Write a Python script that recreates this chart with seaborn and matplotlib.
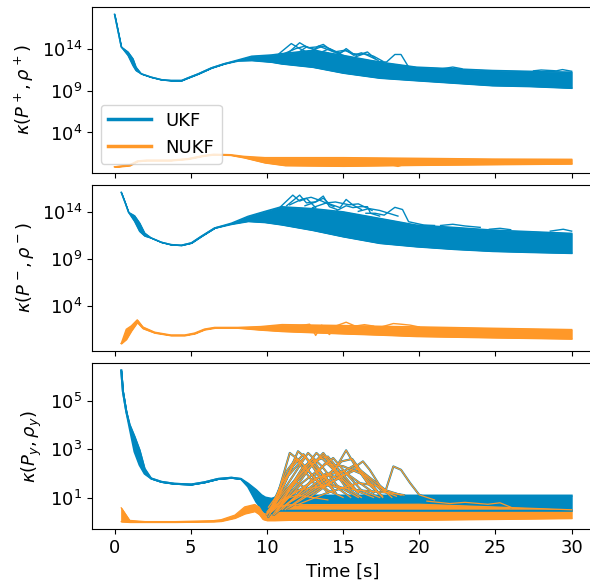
import numpy as np
import pandas as pd
import matplotlib
matplotlib.use("Agg")
import matplotlib.pyplot as plt
from matplotlib.lines import Line2D
from matplotlib.ticker import NullLocator
import seaborn as sns

UKF_COLOR = "#0088c0"
NUKF_COLOR = "#ff9828"

# values are log10 of the condition number
# upper / lower edge of the bundle of Monte Carlo runs

# --- kappa(P+, rho+) ---
top_ukf_t = [0.0, 0.44, 0.88, 1.2, 1.4, 1.75, 2.4, 3.07, 3.7, 4.4, 4.8, 5.5, 6.35, 7.2, 8.1, 9.0,
             10.3, 10.95, 13.0, 15.0, 17.4, 19.8, 22.3, 24.8, 27.3, 30.0]
top_ukf_hi = [18.08, 14.2, 13.6, 12.8, 11.8, 11.0, 10.6, 10.3, 10.2, 10.2, 10.5, 11.0, 11.7, 12.2, 12.65, 13.1,
              13.25, 13.4, 13.8, 13.2, 12.4, 11.8, 11.6, 11.4, 11.3, 11.2]
top_ukf_lo = [18.08, 14.2, 13.2, 12.0, 11.4, 11.0, 10.6, 10.3, 10.2, 10.2, 10.5, 11.0, 11.7, 12.2, 12.55, 12.6,
              12.4, 12.2, 11.8, 11.1, 10.5, 10.2, 9.9, 9.6, 9.5, 9.3]
top_ukf_spikes = [
    ([10.8, 11.6, 12.15, 12.6, 13.25], [13.4, 14.6, 14.0, 13.6, 13.3]),
    ([11.4, 12.15, 12.7, 13.25, 13.7, 14.3, 15.0], [13.5, 14.7, 14.1, 14.2, 14.5, 13.7, 13.2]),
    ([12.2, 12.6, 13.1, 13.7, 14.1, 14.8], [13.7, 14.2, 13.9, 14.3, 14.0, 13.4]),
    ([13.6, 14.1, 14.8, 15.2, 15.65, 16.1, 16.6, 17.1], [13.6, 14.0, 13.4, 14.0, 13.4, 13.3, 13.6, 12.8]),
    ([14.5, 15.2, 15.7, 16.2, 16.6, 17.3], [13.3, 13.8, 13.2, 13.5, 13.2, 12.6]),
    ([17.0, 17.85, 18.4, 18.8, 19.3, 20.0], [12.5, 12.4, 13.3, 13.3, 11.8, 11.7]),
    ([11.0, 11.9, 12.5, 13.4, 14.0], [13.3, 14.0, 14.3, 13.7, 13.5]),
    ([12.8, 13.4, 14.4, 15.1, 15.9], [13.5, 14.3, 13.6, 13.8, 13.2]),
    ([15.8, 16.4, 17.0, 17.6], [13.0, 13.4, 13.1, 12.5]),
    ([21.5, 22.2, 22.8], [11.6, 11.8, 11.6]),
    ([27.5, 28.0, 29.0, 29.4, 30.0], [11.35, 11.45, 11.35, 11.5, 11.3]),
]
top_nukf_t = [0.0, 0.44, 1.0, 1.5, 2.1, 3.7, 4.8, 5.9, 6.5, 7.6, 8.5, 9.86, 11.2, 15.0, 19.8, 24.8, 30.0]
top_nukf_hi = [-0.1, 0.0, 0.15, 0.6, 0.7, 0.7, 0.87, 1.27, 1.4, 1.35, 1.15, 1.0, 1.0, 1.0, 0.92, 0.83, 0.8]
top_nukf_lo = [-0.1, -0.05, 0.05, 0.55, 0.65, 0.65, 0.82, 1.22, 1.35, 1.3, 1.0, 0.4, 0.07, 0.0, 0.11, 0.19, 0.27]
top_nukf_spikes = [([17.8, 18.6, 19.2], [0.3, -0.05, 0.3])]

# --- kappa(P-, rho-) ---
mid_ukf_t = [0.44, 0.7, 0.92, 1.31, 1.64, 1.97, 2.4, 3.07, 3.7, 4.38, 5.04, 5.7, 6.57, 7.67, 8.76, 9.86,
             10.95, 13.0, 15.0, 17.4, 19.8, 22.3, 24.8, 27.3, 30.0]
mid_ukf_hi = [16.12, 15.0, 14.0, 13.64, 12.87, 11.8, 11.28, 10.82, 10.57, 10.5, 10.75, 11.46, 12.34, 12.85, 13.58, 14.1,
              14.6, 14.4, 14.06, 13.36, 12.65, 12.4, 12.12, 11.95, 11.77]
mid_ukf_lo = [16.12, 15.0, 14.0, 13.05, 11.99, 11.5, 11.28, 10.82, 10.57, 10.5, 10.75, 11.46, 12.34, 12.75, 13.05, 12.94,
              12.69, 12.1, 11.42, 10.72, 10.36, 10.08, 9.87, 9.76, 9.66]
mid_ukf_spikes = [
    ([10.9, 11.7, 12.15, 12.6, 13.2], [14.6, 15.83, 15.2, 15.48, 14.5]),
    ([11.3, 12.15, 12.6, 13.2, 13.7, 14.1, 14.6], [14.7, 15.83, 15.0, 15.12, 15.73, 14.6, 14.3]),
    ([12.5, 13.2, 13.7, 14.1, 14.8, 15.2, 15.65, 16.2], [14.7, 15.1, 15.5, 14.9, 14.5, 15.37, 14.77, 14.3]),
    ([14.6, 15.2, 15.65, 16.1, 16.6, 16.8, 17.4], [14.2, 14.7, 14.5, 14.6, 14.6, 13.9, 13.6]),
    ([16.5, 17.1, 17.7, 18.4, 18.9, 19.3, 20.3, 21.0], [13.9, 13.9, 13.7, 14.53, 14.3, 13.0, 12.65, 12.6]),
    ([11.5, 12.3, 12.9, 13.6, 14.4], [14.8, 15.4, 15.6, 15.2, 14.6]),
    ([13.0, 13.9, 14.5, 15.4, 16.0, 16.9], [14.5, 15.0, 15.1, 14.8, 14.9, 14.2]),
    ([16.0, 16.7, 17.4, 18.0, 18.6], [14.1, 14.4, 14.2, 13.9, 13.6]),
    ([21.4, 22.2, 23.0, 24.0], [12.6, 12.73, 12.55, 12.4]),
    ([24.6, 25.3, 26.0], [12.2, 12.3, 12.15]),
    ([28.6, 29.45, 30.0], [12.0, 12.2, 12.0]),
]
mid_nukf_t = [0.44, 0.77, 1.1, 1.49, 1.86, 2.63, 3.7, 4.6, 5.26, 5.9, 6.57, 8.1, 9.6, 11.0, 15.0, 17.4, 19.8, 24.8, 30.0]
mid_nukf_hi = [0.05, 1.56, 1.92, 2.56, 1.8, 1.25, 0.95, 0.95, 1.16, 1.58, 1.76, 1.76, 1.85, 2.06, 1.96, 1.88, 1.82, 1.67, 1.53]
mid_nukf_lo = [0.05, 0.5, 1.4, 2.3, 1.65, 1.18, 0.9, 0.9, 1.1, 1.52, 1.7, 1.7, 1.5, 1.35, 1.1, 0.97, 0.82, 0.68, 0.55]
mid_nukf_spikes = [
    ([12.0, 12.8, 13.2, 13.6, 14.1, 14.6], [1.9, 2.1, 0.9, 2.0, 1.0, 1.9]),
    ([14.5, 15.2, 15.8, 16.4, 17.0], [1.9, 2.31, 1.9, 2.05, 1.9]),
    ([17.6, 18.3, 18.8, 19.4, 20.0], [1.85, 2.17, 2.1, 2.0, 1.8]),
]

# --- kappa(P_y, rho_y) ---
bot_ukf_t = [0.44, 0.55, 0.77, 0.99, 1.31, 1.64, 1.97, 2.4, 3.07, 3.94, 5.04, 5.9, 6.79, 7.67, 8.3, 8.76,
             9.3, 9.64, 9.9, 10.3, 10.8, 11.5, 20.0, 30.0]
bot_ukf_hi = [6.27, 5.4, 4.57, 4.02, 3.53, 2.97, 2.2, 1.79, 1.65, 1.57, 1.54, 1.63, 1.77, 1.82, 1.77, 1.58,
              1.31, 1.1, 1.0, 0.95, 1.05, 1.08, 1.08, 1.08]
bot_ukf_lo = [6.27, 5.4, 4.57, 3.88, 2.9, 2.35, 1.99, 1.79, 1.65, 1.57, 1.54, 1.63, 1.77, 1.82, 1.77, 1.45,
              0.82, 0.54, 0.35, 0.35, 0.45, 0.45, 0.45, 0.45]
bot_nukf_t = [0.44, 0.99, 2.0, 4.0, 6.5, 7.0, 7.9, 8.54, 9.2, 9.5, 9.74, 10.0, 10.5, 11.5, 20.0, 30.0]
bot_nukf_hi = [0.57, 0.05, 0.0, 0.0, 0.04, 0.08, 0.27, 0.61, 0.71, 0.6, 0.35, 0.3, 0.6, 0.7, 0.72, 0.49]
bot_nukf_lo = [0.0, -0.02, -0.02, -0.02, 0.0, 0.02, 0.15, 0.33, 0.43, 0.3, 0.1, 0.05, 0.05, 0.07, 0.07, 0.14]
# excursions between 10 s and 20 s, shared by both filters
bot_spikes = [
    ([10.0, 10.6, 11.5, 12.2, 13.0, 14.0, 15.0], [0.4, 0.9, 2.85, 2.5, 1.9, 1.3, 1.0]),
    ([10.0, 10.8, 12.04, 13.0, 14.2, 15.5], [0.3, 1.1, 2.92, 2.4, 1.6, 1.0]),
    ([10.2, 11.2, 12.7, 13.6, 14.6, 16.0], [0.5, 1.4, 2.85, 2.3, 1.5, 1.0]),
    ([10.3, 11.6, 13.25, 14.3, 15.2, 16.2], [0.4, 1.5, 2.85, 2.2, 1.4, 1.0]),
    ([10.5, 12.0, 13.7, 14.7, 15.8, 17.0], [0.5, 1.7, 2.85, 2.0, 1.3, 1.0]),
    ([10.6, 12.3, 14.35, 15.2, 16.2, 17.4], [0.4, 1.6, 2.64, 2.0, 1.3, 1.0]),
    ([11.0, 12.8, 14.5, 15.2, 15.9, 16.8, 17.6], [0.6, 1.4, 2.2, 2.96, 2.2, 1.5, 1.0]),
    ([11.2, 13.0, 14.8, 15.8, 16.6, 17.6], [0.5, 1.3, 2.0, 2.36, 1.6, 1.05]),
    ([11.5, 13.5, 15.2, 16.3, 16.75, 17.5, 18.2], [0.6, 1.4, 2.0, 2.5, 2.15, 1.4, 1.0]),
    ([12.0, 14.0, 16.0, 17.2, 17.8, 18.3, 18.8, 19.4, 20.0, 21.0],
     [0.7, 1.2, 1.6, 1.5, 1.3, 2.29, 2.15, 1.6, 1.11, 0.9]),
    ([10.2, 11.0, 12.0, 12.6, 13.4, 14.0], [0.3, 1.6, 2.6, 2.2, 1.6, 1.2]),
    ([10.4, 11.4, 12.5, 13.5, 14.5], [0.5, 1.9, 2.7, 1.9, 1.2]),
    ([10.8, 12.0, 13.0, 14.0, 15.2, 16.0], [0.6, 1.8, 2.5, 2.7, 1.8, 1.2]),
    ([11.0, 12.5, 13.8, 15.0, 16.5, 17.5, 18.5], [0.5, 1.4, 2.4, 2.3, 1.9, 1.3, 1.05]),
    ([10.3, 12.0, 14.0, 16.0, 18.0, 19.0], [0.4, 1.3, 1.5, 1.3, 1.2, 1.1]),
    ([10.5, 11.8, 13.2, 15.0, 17.0], [0.3, 1.0, 1.8, 2.1, 1.2]),
    ([10.1, 10.9, 11.7, 12.4, 13.1, 13.8], [0.6, 1.3, 2.3, 2.8, 2.2, 1.5]),
    ([10.2, 10.7, 11.3, 11.9, 12.6, 13.3], [0.5, 1.2, 2.1, 2.6, 2.0, 1.4]),
    ([10.4, 11.0, 11.6, 12.3, 13.0, 13.6, 14.4], [0.3, 0.8, 1.5, 2.2, 2.6, 2.0, 1.3]),
    ([10.6, 11.3, 12.1, 12.9, 13.7, 14.5, 15.4], [0.4, 1.0, 1.6, 2.3, 2.75, 2.1, 1.4]),
    ([10.1, 10.5, 11.1, 11.8, 12.5], [0.2, 0.7, 1.2, 1.7, 1.4]),
    ([10.3, 11.0, 11.9, 12.8, 13.9, 15.0, 16.0], [0.5, 0.9, 1.2, 1.6, 2.0, 1.7, 1.2]),
    ([11.5, 12.6, 13.7, 14.9, 15.6, 16.4, 17.2], [0.8, 1.2, 1.7, 2.5, 2.6, 1.9, 1.3]),
    ([10.0, 10.4, 11.0, 12.0, 13.0, 14.0], [0.35, 0.6, 0.9, 1.1, 1.0, 0.9]),
    ([12.8, 13.9, 15.0, 16.0, 16.8, 17.8, 18.8], [1.0, 1.5, 1.9, 2.2, 1.8, 1.3, 1.1]),
    ([20.5, 22.0, 23.0, 24.5, 25.3, 26.0], [0.85, 0.75, 0.8, 0.72, 0.78, 0.6]),
]

ylabels = [r"$\kappa(P^+, \rho^+)$", r"$\kappa(P^-, \rho^-)$", r"$\kappa(P_y, \rho_y)$"]
yticks = [[1e4, 1e9, 1e14], [1e4, 1e9, 1e14], [1e1, 1e3, 1e5]]
ylims = [(10 ** -0.84, 10 ** 18.96), (10 ** -0.77, 10 ** 16.89), (10 ** -0.32, 10 ** 6.57)]


def to_long(curves):
    rows = []
    for k, (t, logk) in enumerate(curves):
        for ti, li in zip(t, logk):
            rows.append((k, ti, 10.0 ** li))
    return pd.DataFrame(rows, columns=["run", "time", "kappa"])


def draw_bundle(ax, t, hi, lo, spikes, color, lw=1.0):
    ax.fill_between(t, 10.0 ** np.array(lo), 10.0 ** np.array(hi), color=color, lw=0.8,
                    edgecolor=color)
    df = to_long([(t, hi), (t, lo)] + spikes)
    sns.lineplot(data=df, x="time", y="kappa", units="run", estimator=None,
                 color=color, lw=lw, ax=ax, legend=False)


plt.rcParams["font.size"] = 13

fig, axes = plt.subplots(3, 1, figsize=(5.9, 5.85), dpi=100, sharex=True)
fig.subplots_adjust(left=0.1554, right=1.0076, top=0.988, bottom=0.0952, hspace=0.073)

for ax in axes:
    ax.set_yscale("log")

draw_bundle(axes[0], top_ukf_t, top_ukf_hi, top_ukf_lo, top_ukf_spikes, UKF_COLOR)
draw_bundle(axes[0], top_nukf_t, top_nukf_hi, top_nukf_lo, top_nukf_spikes, NUKF_COLOR)

draw_bundle(axes[1], mid_ukf_t, mid_ukf_hi, mid_ukf_lo, mid_ukf_spikes, UKF_COLOR)
draw_bundle(axes[1], mid_nukf_t, mid_nukf_hi, mid_nukf_lo, mid_nukf_spikes, NUKF_COLOR)

draw_bundle(axes[2], bot_ukf_t, bot_ukf_hi, bot_ukf_lo, bot_spikes, UKF_COLOR, lw=1.5)
draw_bundle(axes[2], bot_nukf_t, bot_nukf_hi, bot_nukf_lo, bot_spikes, NUKF_COLOR, lw=0.9)

for ax, lab, tk, lim in zip(axes, ylabels, yticks, ylims):
    ax.set_ylabel(lab)
    ax.set_xlabel("")
    ax.set_yticks(tk)
    ax.yaxis.set_minor_locator(NullLocator())
    ax.set_ylim(*lim)
    ax.set_xlim(-1.5, 31.5)

axes[2].set_xticks([0, 5, 10, 15, 20, 25, 30])
axes[2].set_xlabel("Time [s]")

handles = [Line2D([], [], color=UKF_COLOR, lw=2.5), Line2D([], [], color=NUKF_COLOR, lw=2.5)]
axes[0].legend(handles, ["UKF", "NUKF"], loc="lower left", handlelength=2.4)

fig.savefig("out.png", dpi=100)
